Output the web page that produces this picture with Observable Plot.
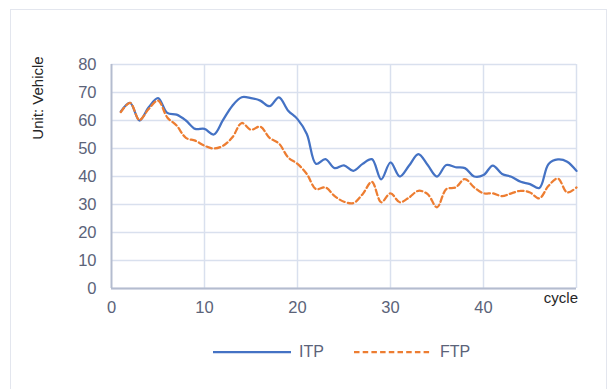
<!DOCTYPE html>
<html>
<head>
<meta charset="utf-8">
<script src="https://cdn.jsdelivr.net/npm/d3@7"></script>
<script src="https://cdn.jsdelivr.net/npm/@observablehq/plot@0.6"></script>
<style>
  html, body { margin: 0; padding: 0; background: #fff; }
  #wrap { position: relative; width: 611px; height: 389px; overflow: hidden; font-family: "Liberation Sans", Arial, sans-serif; }
  #frame { position: absolute; left: 10px; top: 9px; width: 597px; height: 400px; border: 1.5px solid #e3e6ee; box-sizing: border-box; }
  #chart { position: absolute; left: 0; top: 0; }
  .ylab { position: absolute; left: 37px; top: 98px; transform: translate(-50%, -50%) rotate(-90deg); font-size: 15px; color: #262626; white-space: nowrap; }
  .xlab { position: absolute; right: 33px; top: 289px; font-size: 15px; color: #262626; }
  .legend { position: absolute; top: 341px; left: 213px; display: flex; align-items: center; font-size: 16px; color: #5b6379; }
  .legend svg { display: block; }
  .legend .item { display: flex; align-items: center; }
  .legend .item span { margin-left: 8px; }
  .legend .item + .item { margin-left: 30px; }
</style>
</head>
<body>
<div id="wrap">
  <div id="frame"></div>
  <div id="chart"></div>
  <div class="ylab">Unit: Vehicle</div>
  <div class="xlab">cycle</div>
  <div class="legend" id="legend"></div>
</div>
<script>
// Cycle index and the two series (vehicles per cycle)
const cycles = [1,2,3,4,5,6,7,8,9,10,11,12,13,14,15,16,17,18,19,20,21,22,23,24,25,26,27,28,29,30,31,32,33,34,35,36,37,38,39,40,41,42,43,44,45,46,47,48,49,50];
const itp = [63.2,66.3,60,64.7,68,62.7,62.1,60,57,57,55,60.2,65.3,68.3,68,67.1,65.1,68.3,63.5,60.5,55.2,44.5,46.2,43,44,42,44.5,46.2,39,45,40,43.9,48,44.1,40,44.1,43.3,43,40,40.5,43.9,40.9,39.9,38.1,37.3,35.9,44.5,46.1,45.3,42];
const ftp = [63,66.3,60.2,64.1,67.1,61.1,58.2,53.8,52.8,51,50,51,54,59.1,56.7,57.8,53.8,51.8,46.8,44.5,40.9,35.5,36.1,33,31,30.5,33.7,38.1,30.8,34,30.8,32.5,34.9,33.7,29,35.5,36.1,39.1,36.1,34,34,33,34,34.9,34.3,32.2,36.7,39.3,34.3,36.1];
const xTicks = [0,10,20,30,40];
const yTicks = [0,10,20,30,40,50,60,70,80];
const seriesNames = ["ITP", "FTP"];

const colors = { ITP: "#4472c4", FTP: "#ed7d31" };
const dashes = { ITP: null, FTP: "5.5,3.2" };

const rowsITP = cycles.map((c, i) => ({ cycle: c, value: itp[i] }));
const rowsFTP = cycles.map((c, i) => ({ cycle: c, value: ftp[i] }));

const chart = Plot.plot({
  width: 611,
  height: 320,
  marginLeft: 111,
  marginRight: 35,
  marginTop: 64,
  marginBottom: 32,
  style: { fontFamily: "Liberation Sans, Arial, sans-serif", fontSize: "16.5px", background: "transparent", overflow: "visible" },
  x: { domain: [0, 50] },
  y: { domain: [0, 80] },
  marks: [
    Plot.gridY(yTicks, { stroke: "#d9e0ee", strokeOpacity: 1, strokeWidth: 1.5 }),
    Plot.gridX([10, 20, 30, 40, 50], { stroke: "#d9e0ee", strokeOpacity: 1, strokeWidth: 1.5 }),
    Plot.ruleX([0], { stroke: "#b4bccf", strokeWidth: 2 }),
    Plot.ruleY([0], { stroke: "#b4bccf", strokeWidth: 2 }),
    Plot.axisY(yTicks, { tickSize: 0, tickPadding: 15, label: null, fill: "#5b6379" }),
    Plot.axisX(xTicks, { tickSize: 0, tickPadding: 13, label: null, fill: "#5b6379" }),
    Plot.line(rowsITP, { x: "cycle", y: "value", stroke: colors.ITP, strokeWidth: 2.25, curve: "catmull-rom" }),
    Plot.line(rowsFTP, { x: "cycle", y: "value", stroke: colors.FTP, strokeWidth: 2.25, strokeDasharray: dashes.FTP, curve: "catmull-rom" })
  ]
});
document.getElementById("chart").appendChild(chart);

// Legend with line swatches
const legend = d3.select("#legend");
seriesNames.forEach(name => {
  const item = legend.append("div").attr("class", "item");
  const svg = item.append("svg").attr("width", 78).attr("height", 22);
  svg.append("line")
    .attr("x1", 0).attr("x2", 78).attr("y1", 11).attr("y2", 11)
    .attr("stroke", colors[name]).attr("stroke-width", 2.25)
    .attr("stroke-dasharray", dashes[name]);
  item.append("span").text(name);
});
</script>
</body>
</html>
